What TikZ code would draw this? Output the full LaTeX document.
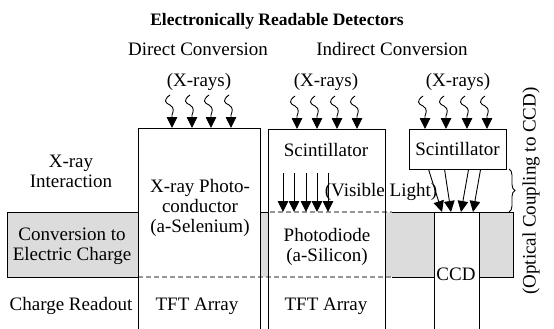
\documentclass[tikz,border=0pt]{standalone}
\usepackage{fontspec}
\setmainfont{Liberation Serif}
\usetikzlibrary{arrows.meta,decorations.pathreplacing}
\definecolor{band}{RGB}{220,220,220}
\definecolor{dashgray}{RGB}{150,150,150}
\begin{document}
\begin{tikzpicture}[x=1pt,y=-1pt,
  txt/.style={font=\fontsize{19}{20}\selectfont, inner sep=0pt, anchor=base},
  ln/.style={line width=0.9pt},
  arr/.style={line width=0.9pt, -{Triangle[width=10.5pt,length=11pt]}},
  dsh/.style={draw=dashgray, line width=1.2pt, dash pattern=on 5pt off 3pt},
  wave/.pic={\draw[arr] (-2,-33) .. controls (-9,-28) and (-7,-25) .. (-2,-23) .. controls (3,-20) and (1,-16) .. (0,-13) -- (0,0);}
]
\useasboundingbox (0,0) rectangle (554,329);
\clip (0,0) rectangle (554,329);

% gray band
\fill[band] (7,212) rectangle (138,277);
\fill[band] (260,212) rectangle (268,277);
\fill[band] (385,212) rectangle (434,277);
\fill[band] (479,212) rectangle (513,277);

% dashed separators
\draw[dsh] (270,212) -- (392,212);
\draw[dsh] (138,277) -- (392,277);

% band borders
\draw[ln] (138,212) -- (7,212) -- (7,277) -- (138,277);
\draw[ln] (260,212) -- (268,212);
\draw[ln] (392,212) -- (434,212);
\draw[ln] (392,277) -- (434,277);
\draw[ln] (479,212) -- (513,212) -- (513,277) -- (479,277);

% columns
\draw[ln] (138,340) -- (138,128) -- (260,128) -- (260,340);
\draw[ln] (268,340) -- (268,129) -- (385,129) -- (385,340);
\draw[ln] (434,340) -- (434,212) -- (479,212) -- (479,340);
\coordinate (ccdtl) at (434,212);

% title and headings
\node[font=\fontsize{17.5}{20}\selectfont\bfseries, inner sep=0pt, anchor=base] (title) at (277,26) {Electronically Readable Detectors};
\node[txt] (dc) at (198,56) {Direct Conversion};
\node[txt] (ic) at (392,56) {Indirect Conversion};
\node[txt] (xr1) at (199,86) {(X-rays)};
\node[txt] (xr2) at (326,86) {(X-rays)};
\node[txt] (xr3) at (458,86) {(X-rays)};

% row labels
\node[txt] (l1a) at (71,167) {X-ray};
\node[txt] (l1b) at (71,187) {Interaction};
\node[txt] (l2a) at (72,240) {Conversion to};
\node[txt] (l2b) at (72,260) {Electric Charge};
\node[txt] (l3) at (71,310) {Charge Readout};

% direct column
\node[txt] (d1) at (200,192) {X-ray Photo-};
\node[txt] (d2) at (200,212) {conductor};
\node[txt] (d3) at (200,232) {(a-Selenium)};
\node[txt] (d4) at (197,310) {TFT Array};

% indirect column
\node[txt] (i1) at (326,156) {Scintillator};
\node[txt] (vis) at (381,196) {(Visible Light)};
\node[txt] (i2) at (327,241) {Photodiode};
\node[txt] (i3) at (327,261) {(a-Silicon)};
\node[txt] (i4) at (326,310) {TFT Array};
\foreach \x in {283,294,306,317,328} \draw[arr] (\x,173) -- (\x,212);

% CCD column
\node[draw, ln, fill=white, inner sep=0pt, minimum width=97pt, minimum height=40pt,
      font=\fontsize{19}{20}\selectfont] (scb) at (457.5,149) {Scintillator};
\node[txt] (ccd) at (456,280) {CCD};
\draw[arr] ([xshift=20pt]scb.south west) -- ([xshift=8pt]ccdtl);
\draw[arr] ([xshift=36pt]scb.south west) -- ([xshift=17pt]ccdtl);
\draw[arr] ([xshift=60pt]scb.south west) -- ([xshift=27pt]ccdtl);
\draw[arr] ([xshift=72pt]scb.south west) -- ([xshift=39pt]ccdtl);

% x-ray wavy arrows
\foreach \x in {172,192,211,231} \pic at (\x,128) {wave};
\foreach \x in {297,317,337,357} \pic at (\x,129) {wave};
\foreach \x in {425,446,467,487} \pic at (\x,129) {wave};

% brace and optical coupling
\draw[ln, decorate, decoration={brace, amplitude=6pt}] (509,169) -- (509,212);
\node[txt, rotate=90, anchor=center] (opt) at (531,191) {(Optical Coupling to CCD)};
\end{tikzpicture}
\end{document}
